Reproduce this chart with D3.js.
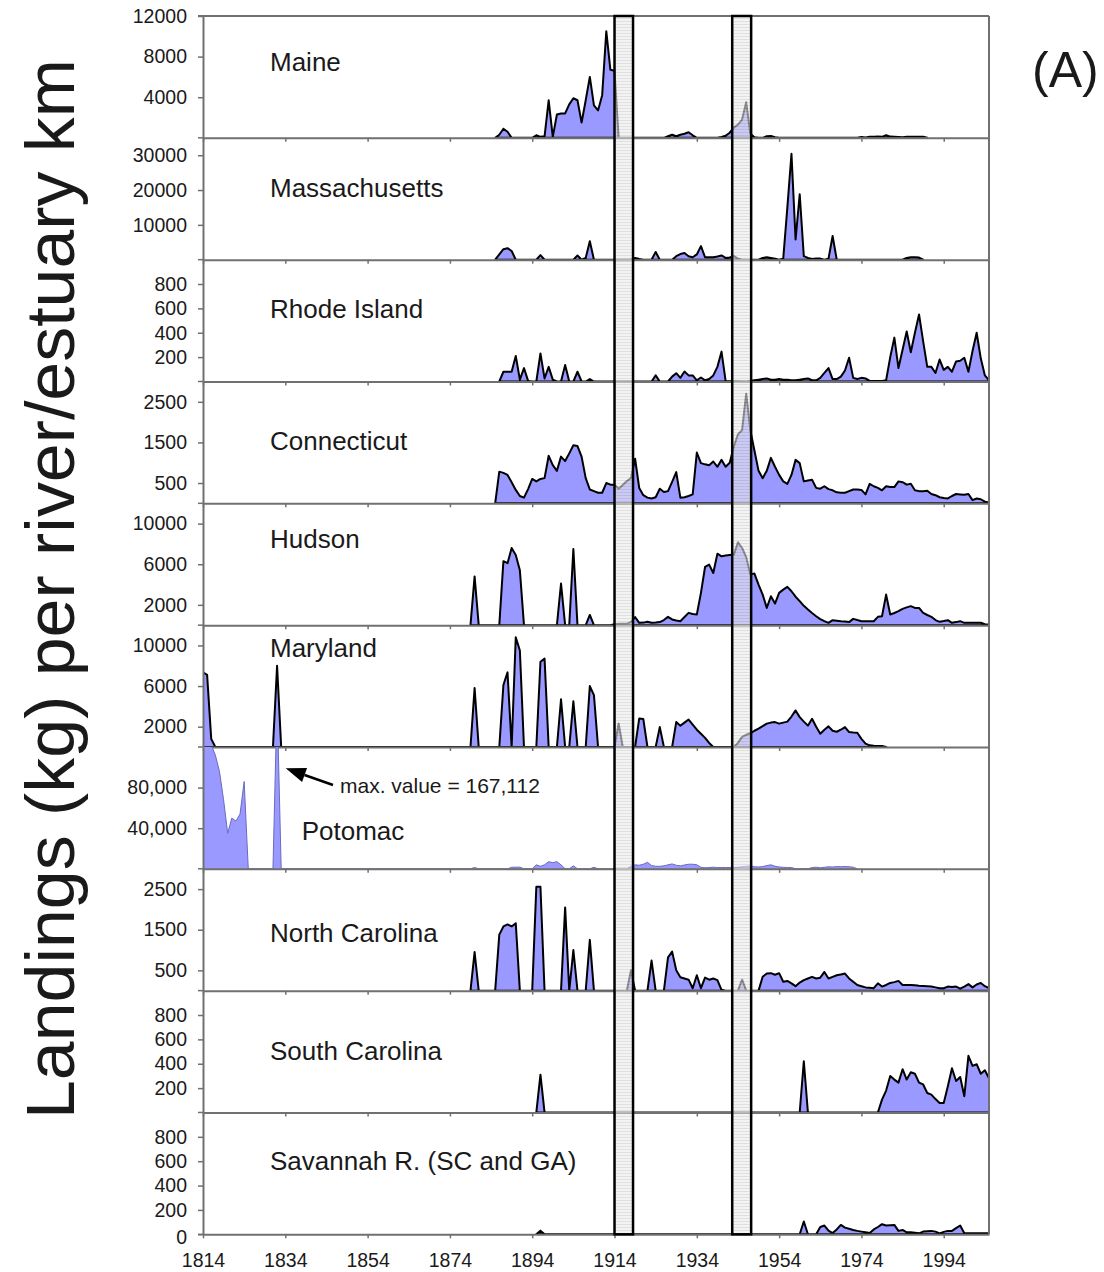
<!DOCTYPE html>
<html><head><meta charset="utf-8">
<script src="https://cdn.jsdelivr.net/npm/d3@7"></script>
<style>body{margin:0;background:#fff}svg{display:block}text{font-family:"Liberation Sans",Arial,sans-serif;fill:#1a1a1a}</style>
</head><body><svg id="c" width="1104" height="1272"></svg>
<script>
// ---------------- DATA ----------------
const yearTicks = [1814,1834,1854,1874,1894,1914,1934,1954,1974,1994];
const panelNames = ["Maine","Massachusetts","Rhode Island","Connecticut","Hudson","Maryland","Potomac","North Carolina","South Carolina","Savannah R. (SC and GA)"];
const panelMax = [12000,35000,1000,3000,12000,12000,120000,3000,1000,1000];
const panelTicks = [[4000,8000,12000],[10000,20000,30000],[200,400,600,800],[500,1500,2500],[2000,6000,10000],[2000,6000,10000],[40000,80000],[500,1500,2500],[200,400,600,800],[0,200,400,600,800]];
const warPeriods = [[1914,1918.5],[1942.6,1947.2]];
const annotationText = "max. value = 167,112";

const maine = [[1885,0],[1886,300],[1887,900],[1888,600],[1889,0],[1894,0],[1895,250],[1896,100],[1897,150],[1898,3700],[1899,100],[1900,2300],[1901,2400],[1902,2400],[1903,3300],[1904,3900],[1905,3700],[1906,1500],[1907,3700],[1908,6000],[1909,3200],[1910,2700],[1911,4200],[1912,10500],[1913,6700],[1914,6600],[1915,0],
 [1926,0],[1927,150],[1928,300],[1929,150],[1930,300],[1931,400],[1932,550],[1933,250],[1934,0],
 [1939,0],[1940,80],[1941,200],[1942,500],[1943,1000],[1944,1300],[1945,1800],[1946,3500],[1947,400],[1948,50],[1949,0],
 [1950,0],[1951,150],[1952,180],[1953,50],[1954,0],
 [1973,0],[1974,80],[1975,30],[1976,100],[1977,100],[1978,120],[1979,100],[1980,250],[1981,120],[1982,100],[1983,80],[1984,60],[1985,100],[1986,100],[1987,100],[1988,100],[1989,100],[1990,0]];

const massachusetts = [[1885,0],[1886,1500],[1887,3000],[1888,3300],[1889,2500],[1890,0],[1895,0],[1896,1300],[1897,0],
 [1904,0],[1905,1200],[1906,0],[1907,500],[1908,5300],[1909,0],[1918,0],[1919,500],[1920,200],[1921,0],[1923,0],[1924,2200],[1925,0],
 [1928,0],[1929,1000],[1930,1600],[1931,1900],[1932,1000],[1933,700],[1934,1500],[1935,3900],[1936,700],[1937,700],[1938,700],[1939,900],[1940,1200],[1941,500],[1942,600],[1943,1000],[1944,300],[1945,0],
 [1949,0],[1950,500],[1951,700],[1952,500],[1953,300],[1954,0],[1955,300],[1956,15000],[1957,30400],[1958,5800],[1959,18800],[1960,1000],[1961,500],[1962,200],[1963,300],[1964,300],[1965,0],[1966,300],[1967,6800],[1968,0],
 [1984,0],[1985,500],[1986,700],[1987,700],[1988,600],[1989,0]];

const rhodeIsland = [[1886,0],[1887,80],[1888,80],[1889,80],[1890,210],[1891,15],[1892,110],[1893,5],[1894,0],[1895,0],[1896,230],[1897,25],[1898,120],[1899,15],[1900,0],[1901,0],[1902,135],[1903,0],[1904,0],[1905,80],[1906,0],[1907,0],[1908,20],[1909,0],
 [1923,0],[1924,50],[1925,0],[1927,0],[1928,40],[1929,68],[1930,30],[1931,82],[1932,50],[1933,50],[1934,10],[1935,33],[1936,10],[1937,20],[1938,50],[1939,120],[1940,245],[1941,5],
 [1946,0],[1947,5],[1948,10],[1949,15],[1950,20],[1951,25],[1952,15],[1953,15],[1954,20],[1955,15],[1956,15],[1957,10],[1958,10],[1959,15],[1960,20],[1961,25],[1962,10],[1963,10],[1964,30],[1965,70],[1966,110],[1967,20],[1968,20],[1969,40],[1970,90],[1971,195],[1972,30],[1973,20],[1974,30],[1975,25],[1976,5],[1977,5],[1978,5],[1979,5],[1980,10],[1981,200],[1982,360],[1983,110],[1984,260],[1985,410],[1986,240],[1987,400],[1988,550],[1989,330],[1990,120],[1991,120],[1992,70],[1993,180],[1994,95],[1995,120],[1996,80],[1997,165],[1998,170],[1999,195],[2000,80],[2001,250],[2002,400],[2003,190],[2004,50],[2005,10]];

const connecticut = [[1885,0],[1886,780],[1887,750],[1888,700],[1889,520],[1890,330],[1891,180],[1892,140],[1893,350],[1894,600],[1895,540],[1896,600],[1897,620],[1898,1170],[1899,940],[1900,800],[1901,1150],[1902,1040],[1903,1230],[1904,1430],[1905,1410],[1906,1150],[1907,620],[1908,340],[1909,300],[1910,260],[1911,260],[1912,500],[1913,460],[1914,460],[1915,360],[1916,450],[1917,550],[1918,620],[1919,1100],[1920,380],[1921,200],[1922,140],[1923,120],[1924,150],[1925,360],[1926,280],[1927,300],[1928,530],[1929,770],[1930,140],[1931,150],[1932,180],[1933,220],[1934,1250],[1935,990],[1936,960],[1937,940],[1938,1030],[1939,900],[1940,1070],[1941,900],[1942,1000],[1943,1400],[1944,1700],[1945,1800],[1946,2700],[1947,1800],[1948,1300],[1949,800],[1950,620],[1951,800],[1952,1120],[1953,900],[1954,700],[1955,540],[1956,480],[1957,700],[1958,1070],[1959,990],[1960,540],[1961,560],[1962,580],[1963,380],[1964,360],[1965,420],[1966,350],[1967,320],[1968,270],[1969,260],[1970,260],[1971,300],[1972,340],[1973,340],[1974,330],[1975,220],[1976,480],[1977,420],[1978,380],[1979,320],[1980,420],[1981,400],[1982,400],[1983,540],[1984,520],[1985,460],[1986,480],[1987,320],[1988,300],[1989,300],[1990,310],[1991,230],[1992,200],[1993,150],[1994,130],[1995,120],[1996,180],[1997,230],[1998,220],[1999,210],[2000,230],[2001,80],[2002,120],[2003,100],[2004,40],[2005,20]];

const hudson = [[1879,0],[1880,4800],[1881,0],[1886,0],[1887,6300],[1888,6100],[1889,7600],[1890,6900],[1891,5400],[1892,0],[1900,0],[1901,4100],[1902,0],[1903,0],[1904,7500],[1905,0],[1907,0],[1908,1000],[1909,0],[1913,0],[1914,100],[1915,130],[1916,130],[1917,150],[1918,300],[1919,800],
 [1920,230],[1921,250],[1922,330],[1923,230],[1924,250],[1925,300],[1926,500],[1927,820],[1928,560],[1929,450],[1930,390],[1931,800],[1932,1210],[1933,1100],[1934,1050],[1935,3180],[1936,5730],[1937,5960],[1938,5140],[1939,7040],[1940,6780],[1941,6850],[1942,6900],[1943,6950],[1944,8160],[1945,7600],[1946,6700],[1947,5000],[1948,5080],[1949,4000],[1950,3010],[1951,1700],[1952,2850],[1953,2130],[1954,3180],[1955,3500],[1956,3770],[1957,3340],[1958,2800],[1959,2360],[1960,1900],[1961,1540],[1962,1200],[1963,880],[1964,600],[1965,400],[1966,230],[1967,490],[1968,440],[1969,390],[1970,350],[1971,300],[1972,620],[1973,500],[1974,390],[1975,390],[1976,390],[1977,390],[1978,820],[1979,880],[1980,3010],[1981,1050],[1982,1200],[1983,1380],[1984,1600],[1985,1750],[1986,1870],[1987,1700],[1988,1700],[1989,1210],[1990,1000],[1991,820],[1992,500],[1993,330],[1994,400],[1995,490],[1996,230],[1997,300],[1998,390],[1999,230],[2000,230],[2001,230],[2002,230],[2003,230],[2004,100],[2005,60]];

const maryland = [[1814,7350],[1815,7100],[1816,800],[1817,0],[1831,0],[1832,8000],[1833,0],[1879,0],[1880,5800],[1881,0],[1886,0],[1887,6100],[1888,7350],[1889,0],[1890,10800],[1891,9500],[1892,0],[1895,0],[1896,8400],[1897,8700],[1898,0],[1900,0],[1901,4700],[1902,0],[1903,0],[1904,4500],[1905,0],[1907,0],[1908,6000],[1909,5100],[1910,0],[1914,0],[1915,2300],[1916,0],[1919,0],[1920,2800],[1921,2750],[1922,0],[1924,0],[1925,1960],[1926,0],[1928,0],[1929,2450],[1930,2100],[1931,2400],[1932,2700],[1933,2200],[1934,1700],[1935,1300],[1936,900],[1937,400],[1938,0],
 [1943,0],[1944,400],[1945,1000],[1946,1200],[1947,1350],[1948,1600],[1949,1800],[1950,2050],[1951,2300],[1952,2400],[1953,2450],[1954,2300],[1955,2400],[1956,2500],[1957,3000],[1958,3600],[1959,2940],[1960,2500],[1961,2100],[1962,2780],[1963,2000],[1964,1310],[1965,1700],[1966,2030],[1967,1600],[1968,1500],[1969,1700],[1970,1960],[1971,1470],[1972,1420],[1973,1400],[1974,800],[1975,330],[1976,160],[1977,120],[1978,100],[1979,100],[1980,0]];

const potomac = [[1814,140000],[1815,135000],[1816,122000],[1817,112000],[1818,96000],[1819,68000],[1820,35000],[1821,50000],[1822,47000],[1823,54000],[1824,86000],[1825,0],[1831,0],[1832,167112],[1833,0],
 [1879,0],[1880,1300],[1881,0],[1888,0],[1889,1500],[1890,1600],[1891,1600],[1892,0],[1894,0],[1895,3900],[1896,2500],[1897,4000],[1898,7000],[1899,6100],[1900,7000],[1901,3900],[1902,0],[1903,0],[1904,2900],[1905,0],[1908,0],[1909,1500],[1910,0],
 [1917,0],[1918,2500],[1919,3900],[1920,3500],[1921,4500],[1922,6400],[1923,3200],[1924,2500],[1925,2500],[1926,2900],[1927,3900],[1928,4800],[1929,3500],[1930,2900],[1931,3800],[1932,4500],[1933,4500],[1934,4000],[1935,1500],[1936,1000],[1937,1200],[1938,1600],[1939,1200],[1940,1300],[1941,1300],[1942,1300],[1943,1300],[1944,1500],[1945,2000],[1946,2500],[1947,2900],[1948,2000],[1949,1800],[1950,2200],[1951,3200],[1952,3900],[1953,2500],[1954,1800],[1955,1500],[1956,1300],[1957,1300],[1958,0],[1961,0],[1962,1200],[1963,1600],[1964,1000],[1965,1500],[1966,2000],[1967,1800],[1968,2200],[1969,2000],[1970,2200],[1971,2000],[1972,1600],[1973,0]];

const northCarolina = [[1879,0],[1880,950],[1881,0],[1885,0],[1886,1380],[1887,1580],[1888,1630],[1889,1580],[1890,1660],[1891,0],[1894,0],[1895,2560],[1896,2560],[1897,0],[1901,0],[1902,2050],[1903,0],[1904,1000],[1905,0],[1907,0],[1908,1250],[1909,0],[1917,0],[1918,500],[1919,0],[1922,0],[1923,740],[1924,0],[1926,0],[1927,820],[1928,960],[1929,500],[1930,330],[1931,300],[1932,270],[1933,60],[1934,380],[1935,60],[1936,320],[1937,270],[1938,300],[1939,260],[1940,20],[1941,0],[1944,0],[1945,270],[1946,0],
 [1949,0],[1950,340],[1951,420],[1952,430],[1953,390],[1954,430],[1955,220],[1956,240],[1957,180],[1958,110],[1959,200],[1960,260],[1961,300],[1962,340],[1963,300],[1964,320],[1965,460],[1966,300],[1967,340],[1968,380],[1969,400],[1970,420],[1971,300],[1972,220],[1973,140],[1974,110],[1975,80],[1976,70],[1977,60],[1978,180],[1979,100],[1980,140],[1981,190],[1982,210],[1983,240],[1984,140],[1985,140],[1986,140],[1987,130],[1988,120],[1989,115],[1990,110],[1991,100],[1992,80],[1993,60],[1994,60],[1995,100],[1996,90],[1997,100],[1998,50],[1999,100],[2000,160],[2001,80],[2002,150],[2003,190],[2004,110],[2005,60]];

const southCarolina = [[1895,0],[1896,310],[1897,0],[1959,0],[1960,420],[1961,0],[1978,0],[1979,105],[1980,180],[1981,300],[1982,270],[1983,245],[1984,355],[1985,270],[1986,330],[1987,318],[1988,245],[1989,230],[1990,160],[1991,147],[1992,110],[1993,78],[1994,78],[1995,216],[1996,363],[1997,258],[1998,291],[1999,133],[2000,465],[2001,382],[2002,396],[2003,318],[2004,346],[2005,280]];

const savannah = [[1895,0],[1896,30],[1897,0],[1959,0],[1960,105],[1961,0],[1963,0],[1964,60],[1965,72],[1966,30],[1967,10],[1968,40],[1969,77],[1970,55],[1971,45],[1972,36],[1973,28],[1974,22],[1975,16],[1976,10],[1977,40],[1978,60],[1979,83],[1980,72],[1981,75],[1982,77],[1983,28],[1984,36],[1985,16],[1986,16],[1987,12],[1988,8],[1989,22],[1990,25],[1991,28],[1992,22],[1993,8],[1994,20],[1995,28],[1996,28],[1997,50],[1998,72],[1999,8],[2000,8],[2001,8],[2002,8],[2003,8],[2004,8],[2005,8]];

const series = [maine, massachusetts, rhodeIsland, connecticut, hudson, maryland, potomac, northCarolina, southCarolina, savannah];

// ---------------- LAYOUT ----------------
const L = 203, R = 989, TOP = 16, PH = 121.83;
const labelLayout = [[270,54.7],[270,58.9],[270,58.6],[270,68.5],[270,45],[270,32.1],[301.7,93],[270,72.9],[270,69.4],[270,57.5]];
const AXIS = "#707070", FILL = "#9999ff", TICKFONT = 19.5;

const svg = d3.select("#c");
const defs = svg.append("defs");
const pat = defs.append("pattern").attr("id","stripes").attr("patternUnits","userSpaceOnUse").attr("width",6).attr("height",3);
pat.append("rect").attr("width",6).attr("height",3).attr("fill","#ebebeb");
pat.append("rect").attr("width",6).attr("height",1).attr("fill","#cccccc");

const x = d3.scaleLinear().domain([1814,2005]).range([L,R]);
const nPanels = series.length;
const BOTTOM = TOP + nPanels*PH;

series.forEach((data,i) => {
  const top = TOP + i*PH, base = top + PH;
  const y = d3.scaleLinear().domain([0, panelMax[i]]).range([base, top]);
  defs.append("clipPath").attr("id","clip"+i).append("rect")
    .attr("x",L).attr("y",top).attr("width",R-L).attr("height",PH);
  const g = svg.append("g").attr("clip-path",`url(#clip${i})`);
  const area = d3.area().x(d=>x(d[0])).y0(base).y1(d=>y(d[1]));
  const isPot = panelNames[i] === "Potomac";
  g.append("path").datum(data).attr("d",area)
    .attr("fill",FILL)
    .attr("stroke", isPot ? "#6a6ac0" : "#000")
    .attr("stroke-width", isPot ? 1 : 2)
    .attr("stroke-linejoin","round");

  // y axis
  const fmt = panelMax[i] >= 100000 ? d3.format(",") : d3.format("d");
  const ya = svg.append("g").attr("transform",`translate(${L},0)`)
    .call(d3.axisLeft(y).tickValues(panelTicks[i]).tickSize(5).tickSizeOuter(0).tickPadding(11).tickFormat(fmt));
  ya.select(".domain").attr("stroke",AXIS).attr("stroke-width",2);
  ya.selectAll(".tick line").attr("stroke",AXIS).attr("stroke-width",1.5);
  ya.selectAll(".tick text").attr("font-size",TICKFONT).attr("font-family","Liberation Sans, Arial, sans-serif").attr("fill","#1a1a1a");
  ya.selectAll(".tick").filter(d=>d===0).select("text").attr("y",3);
  svg.append("line").attr("x1",L-5).attr("x2",L).attr("y1",base).attr("y2",base).attr("stroke",AXIS).attr("stroke-width",1.5);

  // x axis along panel baseline
  const last = i === nPanels-1;
  const xa = svg.append("g").attr("transform",`translate(0,${base})`)
    .call(d3.axisBottom(x).tickValues(yearTicks).tickSize(4).tickSizeOuter(0).tickPadding(14.5)
      .tickFormat(last ? d3.format("d") : ""));
  xa.select(".domain").attr("stroke",AXIS).attr("stroke-width",2);
  xa.selectAll(".tick line").attr("stroke",AXIS).attr("stroke-width",1.5);
  xa.selectAll(".tick text").attr("font-size",TICKFONT).attr("font-family","Liberation Sans, Arial, sans-serif").attr("fill","#1a1a1a");

  // panel label
  svg.append("text").attr("x",labelLayout[i][0]).attr("y",top+labelLayout[i][1])
    .attr("font-size",26).text(panelNames[i]);
});

// frame: top and right
svg.append("line").attr("x1",L-5).attr("x2",R).attr("y1",TOP).attr("y2",TOP).attr("stroke",AXIS).attr("stroke-width",2);
svg.append("line").attr("x1",R).attr("x2",R).attr("y1",TOP).attr("y2",BOTTOM).attr("stroke",AXIS).attr("stroke-width",2);

// war period bars
svg.append("g").selectAll("rect").data(warPeriods).join("rect")
  .attr("x",d=>x(d[0])).attr("width",d=>x(d[1])-x(d[0]))
  .attr("y",TOP).attr("height",BOTTOM-TOP)
  .attr("fill","url(#stripes)").attr("fill-opacity",0.6)
  .attr("stroke","#000").attr("stroke-width",2.5);

// annotation in Potomac panel
const tip = [285.7,768.3], tail = [333,785];
const ux = tip[0]-tail[0], uy = tip[1]-tail[1], ul = Math.hypot(ux,uy);
const dx = ux/ul, dy = uy/ul, hl = 20, hw = 7.5;
const bx = tip[0]-dx*hl, by = tip[1]-dy*hl;
svg.append("line").attr("x1",tail[0]).attr("y1",tail[1]).attr("x2",bx).attr("y2",by).attr("stroke","#000").attr("stroke-width",2.5);
svg.append("polygon").attr("points",[[tip[0],tip[1]],[bx-dy*hw,by+dx*hw],[bx+dy*hw,by-dx*hw]].map(p=>p.join(",")).join(" ")).attr("fill","#000");
svg.append("text").attr("x",340).attr("y",793).attr("font-size",21).text(annotationText);

// y title
svg.append("text").attr("transform","translate(74,589) rotate(-90)").attr("text-anchor","middle")
  .attr("font-size",68).attr("textLength",1060).attr("lengthAdjust","spacingAndGlyphs")
  .text("Landings (kg) per river/estuary km");

// panel tag
svg.append("text").attr("x",1032).attr("y",87).attr("font-size",50).text("(A)");
</script></body></html>
